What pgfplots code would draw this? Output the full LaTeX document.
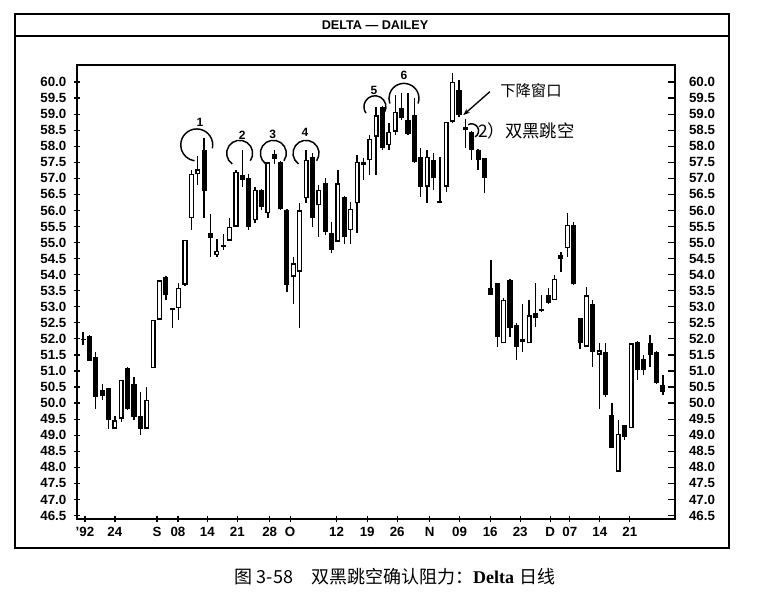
\documentclass[border=0pt]{standalone}
\usepackage{fontspec}
\setmainfont{Liberation Sans}
\newfontfamily\cjk{Noto Sans CJK SC}
\newfontfamily\tnr{Liberation Serif}
\usepackage{pgfplots}
\usepackage{pgfplotstable}
\usetikzlibrary{arrows.meta}
\pgfplotsset{compat=1.18}

% falling days (black bodies): day, open, high, low, close
\pgfplotstableread{
i O H L C
0 52.00 52.20 51.80 51.95
1 52.10 52.12 51.30 51.32
2 51.44 51.60 49.83 50.20
3 50.40 50.60 50.10 50.22
4 50.46 50.48 49.20 49.47
7 51.10 51.12 49.78 49.83
8 50.60 50.80 49.47 49.57
9 49.60 50.35 49.00 49.20
13 53.94 53.96 53.20 53.36
14 52.95 52.97 52.33 52.90
19 57.88 58.25 55.75 56.60
20 55.30 55.90 54.56 55.15
25 57.10 57.88 56.74 56.95
26 57.00 57.15 55.39 55.49
28 56.64 56.66 56.00 56.12
30 57.75 57.88 57.46 57.60
31 57.52 57.54 56.01 56.03
32 56.01 56.03 53.47 53.68
36 57.67 57.78 55.49 55.75
38 56.84 57.00 55.23 55.34
39 55.29 55.65 54.66 54.77
41 56.43 56.45 54.97 55.18
44 57.50 57.62 56.95 57.40
47 59.23 59.25 57.88 57.93
50 59.18 59.65 58.82 58.87
51 58.82 59.65 58.35 58.37
52 58.97 59.49 57.47 57.52
53 57.67 57.93 56.43 56.74
55 57.57 57.78 56.64 57.00
59 59.75 60.06 58.92 58.97
60 58.60 58.85 57.93 58.50
61 58.45 58.47 57.57 57.88
62 57.88 57.90 57.26 57.57
63 57.62 57.64 56.53 57.00
64 53.57 54.45 53.36 53.38
65 53.73 53.75 51.76 52.07
67 53.83 53.85 52.07 52.33
68 52.43 52.48 51.34 51.76
69 52.00 53.10 51.60 51.90
71 52.80 53.73 52.38 52.64
73 53.36 53.57 53.10 53.12
75 54.60 54.71 54.09 54.50
77 55.55 55.65 53.68 53.70
78 52.64 52.66 51.70 51.86
80 53.10 53.21 51.13 51.60
82 51.60 51.86 50.20 50.25
83 49.62 49.99 48.59 48.61
85 49.31 49.33 48.85 48.95
87 51.91 51.93 50.72 51.03
88 51.36 51.50 50.87 51.03
89 51.86 52.12 51.13 51.50
90 51.60 51.62 50.61 50.63
91 50.56 50.87 50.25 50.35
}\downdays

% rising days (white bodies)
\pgfplotstableread{
i O H L C
5 49.20 49.60 49.20 49.47
6 49.52 50.72 49.40 50.72
10 49.20 50.50 49.20 50.10
11 51.08 52.59 51.08 52.59
12 52.59 53.83 52.59 53.83
15 52.95 53.73 52.60 53.60
16 53.68 55.08 53.66 55.08
17 55.75 57.26 55.40 57.15
18 57.12 57.70 56.80 57.28
21 54.60 55.10 54.56 54.75
22 54.85 55.28 54.77 54.90
23 55.06 55.78 55.06 55.50
24 55.50 57.25 55.48 57.21
27 55.70 56.74 55.60 56.64
29 55.91 57.52 55.75 57.50
33 53.93 54.56 53.10 54.35
34 54.09 56.22 52.33 56.01
35 56.38 57.88 56.22 57.57
37 56.17 56.79 55.18 56.64
40 55.03 57.26 55.03 56.84
42 55.39 56.27 54.97 56.06
43 56.22 57.73 55.29 57.52
45 57.57 58.35 57.10 58.24
46 58.29 59.23 57.10 58.97
48 58.04 58.71 57.88 58.45
49 58.45 59.60 58.35 59.08
54 56.74 57.88 56.22 57.67
56 56.24 57.67 56.24 56.27
57 56.74 58.76 56.58 58.76
58 58.76 60.27 58.71 60.01
66 51.86 53.26 51.86 53.21
70 51.86 53.21 51.86 52.74
72 52.88 53.36 52.85 52.92
74 53.21 53.99 53.21 53.88
76 54.82 55.91 54.56 55.55
79 51.75 53.62 51.75 53.36
81 51.50 51.86 49.83 51.65
84 47.86 49.47 47.86 49.05
86 49.21 51.86 49.21 51.86
}\updays

\pgfplotsset{
  candle/.style 2 args={forget plot, only marks, mark=none,
    mark options={draw opacity=0, fill opacity=0},
    error bars/.cd, y dir=plus, y explicit, error mark=none,
    error bar style={line width=#1, draw=#2},
    draw error bar/.code 2 args={\draw ##1 -- ##2;}},
  frame common/.style={
    at={(57.75pt,56.25pt)}, anchor=south west,
    scale only axis, width=448.5pt, height=340.5pt,
    xmin=-0.95, xmax=92.9, ymin=46.39, ymax=60.53,
    ytick={46.5,47,...,60},
    /pgf/number format/fixed,
    /pgf/number format/fixed zerofill,
    /pgf/number format/precision=1,
    /pgf/number format/assume math mode=true,
    tick label style={font=\fontsize{10}{12}\selectfont\bfseries},
    tick style={line width=0.9pt, black},
    axis line style={line width=1.2pt},
  },
}

\begin{document}
\begin{tikzpicture}
\begin{axis}[
  frame common,
  clip=false,
  xtick pos=bottom, ytick pos=left,
  tick align=center, major tick length=5pt,
  xtick={0.3,5.0,11.6,14.9,19.5,24.2,29.3,32.5,39.8,44.6,49.3,54.4,59.1,63.9,68.6,73.3,76.4,81.1,85.8},
  xticklabels={{’92},24,S,08,14,21,28,O,12,19,26,N,09,16,23,D,07,14,21},
  yticklabel style={xshift=-2pt},
]
% wicks
\addplot[candle={1pt}{black}] table[x=i, y=L, y error plus expr=\thisrow{H}-\thisrow{L}] {\downdays};
\addplot[candle={1pt}{black}] table[x=i, y=L, y error plus expr=\thisrow{H}-\thisrow{L}] {\updays};
% bodies
\addplot[candle={3.8pt}{black}] table[x=i, y=C, y error plus expr={max(\thisrow{O}-\thisrow{C},0.06)}] {\downdays};
\addplot[candle={3.8pt}{black}] table[x=i, y=O, y error plus expr={max(\thisrow{C}-\thisrow{O},0.06)}] {\updays};
\addplot[candle={1.8pt}{white}] table[x=i, y expr=\thisrow{O}+0.045, y error plus expr={max(\thisrow{C}-\thisrow{O}-0.09,0)}] {\updays};

% resistance circles
\begin{scope}[line width=1.1pt]
\draw (axis cs:17.84,58.04) ++(-12:12pt) arc[start angle=-12, end angle=262, radius=12pt];
\draw (axis cs:24.58,57.78) ++(-35:9.75pt) arc[start angle=-35, end angle=235, radius=9.75pt];
\draw (axis cs:29.86,57.78) ++(-35:9.75pt) arc[start angle=-35, end angle=235, radius=9.75pt];
\draw (axis cs:34.99,57.78) ++(-35:9.75pt) arc[start angle=-35, end angle=235, radius=9.75pt];
\draw (axis cs:45.81,59.23) ++(-30:8.25pt) arc[start angle=-30, end angle=215, radius=8.25pt];
\draw (axis cs:50.36,59.49) ++(-20:11.25pt) arc[start angle=-20, end angle=200, radius=11.25pt];
\draw (axis cs:60.98,58.48) ++(120:5.25pt) arc[start angle=120, end angle=-60, radius=5.25pt];
\end{scope}
\begin{scope}[font=\fontsize{9}{10}\selectfont\bfseries]
\node at (axis cs:18.36,58.75) {1};
\node at (axis cs:24.99,58.35) {2};
\node at (axis cs:29.75,58.38) {3};
\node at (axis cs:34.83,58.42) {4};
\node at (axis cs:45.65,59.75) {5};
\node at (axis cs:50.36,60.22) {6};
\end{scope}
\draw[line width=1pt, -{Stealth[length=5pt]}] (axis cs:63.85,59.70) -- (axis cs:59.67,58.97);
\node[font=\cjk\fontsize{11.5}{13}\selectfont] at (axis cs:70.29,59.72) {下降窗口};
\node[anchor=west, inner sep=0pt, font=\cjk\fontsize{13}{15}\selectfont] at (axis cs:61.97,58.47) {2）双黑跳空};
\end{axis}

% right-hand price scale
\begin{axis}[
  frame common,
  axis x line=none, axis y line*=right,
  ytick align=inside, major tick length=5pt,
  yticklabel style={xshift=7pt},
]
\addplot[draw=none] coordinates {(0,50)};
\end{axis}

\begin{scope}[x=0.75pt, y=0.75pt]
\path (0,0) rectangle (768,594);
\draw[line width=1.3pt] (15,580) rectangle (729,46);
\draw[line width=1.1pt] (15,558) -- (729,558);
\node[font=\fontsize{9.5}{11}\selectfont\bfseries] at (375,569) {DELTA — DAILEY};
\node[font=\fontsize{13.5}{16}\selectfont] at (395,17)
  {{\cjk 图 3-58}\quad{\cjk 双黑跳空确认阻力：}{\tnr\bfseries Delta} {\cjk 日线}};
\end{scope}
\end{tikzpicture}
\end{document}
